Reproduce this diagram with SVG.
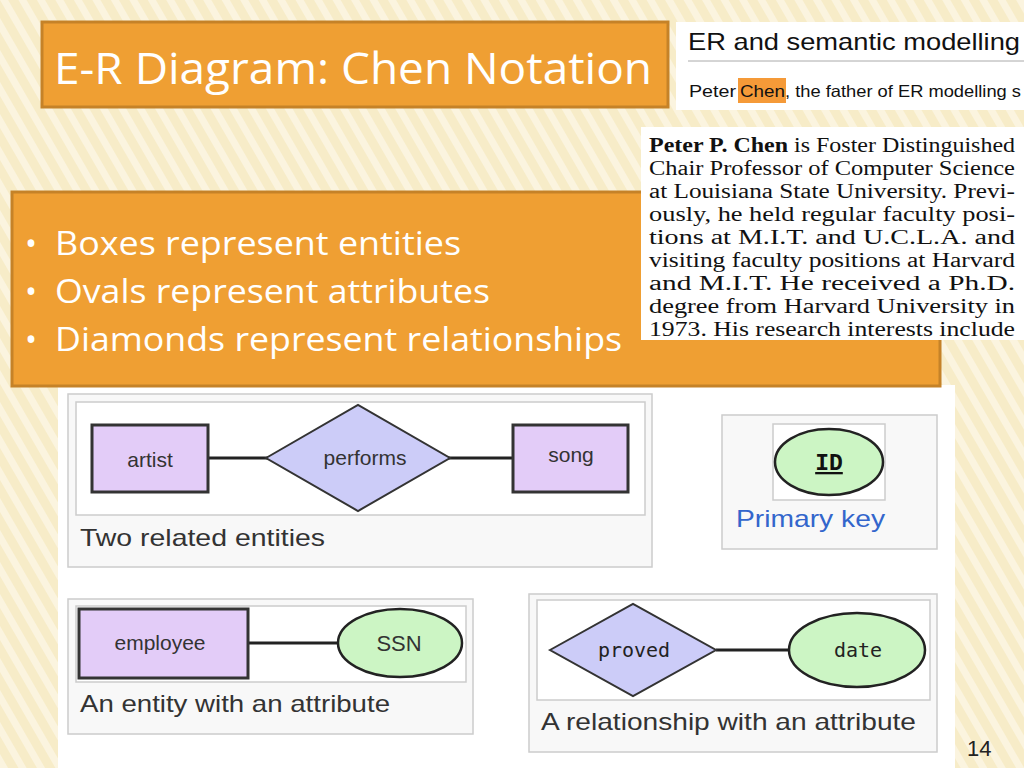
<svg xmlns="http://www.w3.org/2000/svg" width="1024" height="768" viewBox="0 0 1024 768">
<style>
.ora{fill:#ef9f33;stroke:#c58228;stroke-width:3}
.wt{font-family:"Open Sans","Liberation Sans",sans-serif;fill:#fff}
.ar{font-family:"Liberation Sans",Arial,sans-serif;fill:#333}
.ent{fill:#e3ccf8;stroke:#333;stroke-width:3}
.rel{fill:#ccccf8;stroke:#333;stroke-width:2}
.att{fill:#ccf5c4;stroke:#222;stroke-width:2.5}
.ln{stroke:#222;stroke-width:3;fill:none}
.pan{fill:#f8f8f8;stroke:#ccc;stroke-width:1.5}
.inr{fill:#fff;stroke:#ccc;stroke-width:1.5}
.bio{font-family:"Liberation Serif","Times New Roman",serif;font-size:20px;fill:#111}
</style>
<defs>
<pattern id="str" width="16" height="16" patternUnits="userSpaceOnUse" patternTransform="rotate(-30)">
<rect width="16" height="16" fill="#f7ecc8"/><rect width="7" height="16" fill="#fbf4df"/>
</pattern>
</defs>
<rect width="1024" height="768" fill="url(#str)"/>
<rect x="58" y="385" width="897" height="383" fill="#fff"/>

<g id="title"><rect class="ora" x="42" y="22" width="626" height="85"/>
<text class="wt" x="54" y="84" font-size="44" font-weight="500" textLength="598" lengthAdjust="spacingAndGlyphs">E-R Diagram: Chen Notation</text></g>

<g id="wiki"><rect x="676" y="22" width="348" height="88" fill="#fff"/>
<text x="688" y="50" font-family="Liberation Sans,Arial,sans-serif" font-size="24" fill="#111" textLength="332" lengthAdjust="spacingAndGlyphs">ER and semantic modelling</text>
<line x1="688" y1="61" x2="1024" y2="61" stroke="#aaa"/>
<rect x="738" y="78" width="48" height="25" fill="#f59a38"/>
<text font-family="Liberation Sans,Arial,sans-serif" font-size="16.5" fill="#111"><tspan x="689" y="97" textLength="47" lengthAdjust="spacingAndGlyphs">Peter</tspan><tspan x="740" y="97" textLength="45" lengthAdjust="spacingAndGlyphs">Chen</tspan><tspan x="785" y="97" textLength="236" lengthAdjust="spacingAndGlyphs">, the father of ER modelling s</tspan></text></g>

<g id="bullets"><rect class="ora" x="12" y="192" width="928" height="194"/>
<g class="wt" font-size="32" font-weight="500"><text x="25" y="255">•</text><text x="25" y="303">•</text><text x="25" y="351">•</text>
<text x="55" y="255" textLength="406" lengthAdjust="spacingAndGlyphs">Boxes represent entities</text>
<text x="55" y="303" textLength="435" lengthAdjust="spacingAndGlyphs">Ovals represent attributes</text>
<text x="55" y="351" textLength="567" lengthAdjust="spacingAndGlyphs">Diamonds represent relationships</text></g></g>

<g id="bio"><rect x="641" y="127" width="383" height="213" fill="#fff"/>
<text class="bio" textLength="366" lengthAdjust="spacingAndGlyphs" x="649" y="152"><tspan font-weight="bold">Peter P. Chen</tspan> is Foster Distinguished</text>
<text class="bio" x="649" y="175" textLength="366" lengthAdjust="spacingAndGlyphs">Chair Professor of Computer Science</text>
<text class="bio" x="649" y="198" textLength="366" lengthAdjust="spacingAndGlyphs">at Louisiana State University. Previ-</text>
<text class="bio" x="649" y="221" textLength="366" lengthAdjust="spacingAndGlyphs">ously, he held regular faculty posi-</text>
<text class="bio" x="649" y="244" textLength="366" lengthAdjust="spacingAndGlyphs">tions at M.I.T. and U.C.L.A. and</text>
<text class="bio" x="649" y="267" textLength="366" lengthAdjust="spacingAndGlyphs">visiting faculty positions at Harvard</text>
<text class="bio" x="649" y="290" textLength="366" lengthAdjust="spacingAndGlyphs">and M.I.T. He received a Ph.D.</text>
<text class="bio" x="649" y="313" textLength="366" lengthAdjust="spacingAndGlyphs">degree from Harvard University in</text>
<text class="bio" x="649" y="336" textLength="366" lengthAdjust="spacingAndGlyphs">1973. His research interests include</text></g>

<rect class="pan" x="68" y="394" width="584" height="173"/>
<rect class="inr" x="76" y="402" width="569" height="113"/>
<rect class="pan" x="722" y="415" width="215" height="134"/>
<rect class="inr" x="773" y="424" width="112" height="76"/>
<rect class="pan" x="68" y="599" width="405" height="135"/>
<rect class="inr" x="76" y="606" width="390" height="76"/>
<rect class="pan" x="529" y="594" width="408" height="158"/>
<rect class="inr" x="537" y="600" width="393" height="100"/>

<g id="connectors">
<line class="ln" x1="208" y1="458" x2="268" y2="458"/>
<line class="ln" x1="448" y1="458" x2="513" y2="458"/>
<line class="ln" x1="248" y1="643" x2="338" y2="643"/>
<line class="ln" x1="716" y1="650" x2="789" y2="650"/>
</g>

<g id="artist"><rect class="ent" x="92" y="425" width="116" height="67"/><text class="ar" x="150" y="467" font-size="21" text-anchor="middle">artist</text></g>
<g id="performs"><polygon class="rel" points="266,458 358,405 450,458 358,511"/><text class="ar" x="365" y="465" font-size="21" text-anchor="middle">performs</text></g>
<g id="song"><rect class="ent" x="513" y="425" width="115" height="67"/><text class="ar" x="571" y="462" font-size="21" text-anchor="middle">song</text></g>
<text class="ar" x="80" y="546" font-size="24" textLength="245" lengthAdjust="spacingAndGlyphs">Two related entities</text>

<g id="id"><ellipse class="att" cx="829" cy="462" rx="54" ry="33"/><text x="829" y="470" font-family="Liberation Mono,monospace" font-size="23" font-weight="bold" fill="#111" text-anchor="middle" text-decoration="underline">ID</text></g>
<text x="736" y="527" font-family="Liberation Sans,Arial,sans-serif" font-size="24" fill="#3366cc" textLength="149" lengthAdjust="spacingAndGlyphs">Primary key</text>

<g id="employee"><rect class="ent" x="79" y="609" width="169" height="69"/><text class="ar" x="160" y="650" font-size="21" text-anchor="middle">employee</text></g>
<g id="ssn"><ellipse class="att" cx="400" cy="643" rx="62" ry="34"/><text class="ar" x="399" y="651" font-size="22" text-anchor="middle">SSN</text></g>
<text class="ar" x="80" y="712" font-size="24" fill="#222" textLength="310" lengthAdjust="spacingAndGlyphs">An entity with an attribute</text>

<g id="proved"><polygon class="rel" points="550,650 633,604 716,650 633,696"/><text x="634" y="657" font-family="DejaVu Sans Mono,monospace" font-size="20" fill="#222" text-anchor="middle">proved</text></g>
<g id="date"><ellipse class="att" cx="857" cy="650" rx="68" ry="37"/><text x="858" y="657" font-family="DejaVu Sans Mono,monospace" font-size="20" fill="#222" text-anchor="middle">date</text></g>
<text class="ar" x="541" y="730" font-size="24" fill="#222" textLength="375" lengthAdjust="spacingAndGlyphs">A relationship with an attribute</text>

<text x="967" y="756" font-family="Liberation Sans,Arial,sans-serif" font-size="22" fill="#222">14</text>
</svg>
